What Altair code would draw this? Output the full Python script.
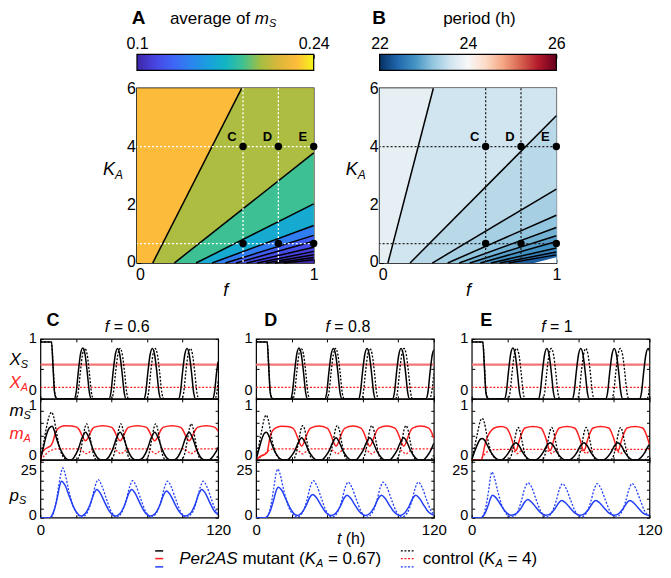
import altair as alt
import pandas as pd

FONT = "Liberation Sans"
BLACK = "#000000"
RED = "#FF1F1F"
RED_LIGHT = "#F27474"
BLUE = "#2340F5"

# ---------------- Panel A: average of m_S (contours from (f0,0) to (f1,K1)) ----------------
A_LINE_F0 = [0.089, 0.211, 0.334, 0.425, 0.50, 0.56, 0.62, 0.68, 0.73, 0.78, 0.83]
A_LINE_F1 = [0.592, 1, 1, 1, 1, 1, 1, 1, 1, 1, 1]
A_LINE_K1 = [6.0, 3.78, 2.03, 1.29, 0.95, 0.75, 0.545, 0.40, 0.285, 0.19, 0.11]
A_REGION_VAL = [0.226, 0.200, 0.183, 0.163, 0.139, 0.125, 0.118, 0.113, 0.109, 0.106, 0.103, 0.101]
A_CB_STOPS = [0.1, 0.114, 0.128, 0.142, 0.156, 0.17, 0.184, 0.198, 0.212, 0.226, 0.24]
A_CB_COLORS = ["#3E26A8", "#4744E0", "#3F64F6", "#2C83EF", "#1A9FDE", "#12B5C4",
               "#40C290", "#A4BE42", "#DAB73A", "#FDBB3C", "#F5F418"]
A_CB_TICKS = [0.1, 0.17, 0.24]

# ---------------- Panel B: period (h) ----------------
B_LINE_F0 = [0.047, 0.172, 0.298, 0.385, 0.45, 0.51, 0.57, 0.63, 0.68, 0.73]
B_LINE_F1 = [0.304, 1, 1, 1, 1, 1, 1, 1, 1, 1]
B_LINE_K1 = [6.0, 5.06, 2.54, 1.64, 1.22, 0.94, 0.74, 0.52, 0.38, 0.28]
B_REGION_VAL = [23.82, 23.60, 23.45, 23.33, 23.20, 23.05, 22.90, 22.78, 22.65, 22.50, 22.35]
B_WHITE_F = [0.875, 1.0]
B_WHITE_K = [0.0, 0.2]
B_CB_STOPS = [22, 22.4, 22.8, 23.2, 23.6, 24, 24.4, 24.8, 25.2, 25.6, 26]
B_CB_COLORS = ["#053061", "#2166AC", "#4393C3", "#92C5DE", "#D1E5F0", "#F7F7F7",
               "#FDDBC7", "#F4A582", "#D6604D", "#B2182B", "#67001F"]
B_CB_TICKS = [22, 23, 24, 25, 26]

GUIDE_F = [0.6, 0.8]
GUIDE_K = [4.0, 0.67]
POINT_F = [0.6, 0.8, 1.0]
POINT_LAB = ["C", "D", "E"]

# ---------------- Time courses (t in h, value) ----------------
XA_MUT = [(0, 0.57), (120, 0.57)]
XA_CTL = [(0, 0.19), (120, 0.19)]

# Panel C, f = 0.6
C_XS_MUT = [(0,.95),(7.5,.95),(8.5,.55),(9.5,.12),(10.5,.02),(12,0),
            (22.8,0),(24.1,.1),(25.6,.45),(27.1,.75),(28.6,.85),(30.1,.75),(31.6,.45),(33.1,.1),(34.4,0),
            (46.3,0),(47.6,.1),(49.1,.45),(50.6,.74),(52.1,.84),(53.6,.74),(55.1,.45),(56.6,.1),(57.9,0),
            (69.8,0),(71.1,.1),(72.6,.45),(74.1,.74),(75.6,.84),(77.1,.74),(78.6,.45),(80.1,.1),(81.4,0),
            (93.2,0),(94.5,.1),(96,.45),(97.5,.74),(99,.84),(100.5,.74),(102,.45),(103.5,.1),(104.8,0),
            (116.2,0),(117.5,.1),(119,.45),(120,.62)]
C_XS_CTL = [(0,.95),(7.5,.95),(8.6,.55),(9.6,.12),(10.6,.02),(12,0),
            (24.2,0),(25.5,.1),(27,.45),(28.5,.75),(30,.84),(31.5,.75),(33,.45),(34.5,.1),(35.8,0),
            (48,0),(49.3,.1),(50.8,.45),(52.3,.74),(53.8,.84),(55.3,.74),(56.8,.45),(58.3,.1),(59.6,0),
            (71.7,0),(73,.1),(74.5,.45),(76,.74),(77.5,.84),(79,.74),(80.5,.45),(82,.1),(83.3,0),
            (95.4,0),(96.7,.1),(98.2,.45),(99.7,.74),(101.2,.84),(102.7,.74),(104.2,.45),(105.7,.1),(107,0),
            (117.8,0),(119.1,.1),(120,.3)]
C_MS_MUT = [(0,0),(2,.2),(4,.4),(6,.52),(7.9,.55),(9.5,.47),(11,.34),(13,.2),(15,.1),(17,.03),(19,0),(21,0),
            (23,.05),(25.5,.17),(28,.35),(30.5,.45),(33,.35),(35.5,.17),(38,.05),(40.5,0),(44,0),
            (46.3,.05),(48.8,.17),(51.3,.35),(53.8,.45),(56.3,.35),(58.8,.17),(61.3,.05),(63.8,0),(67,0),
            (69.7,.05),(72.2,.17),(74.7,.35),(77.2,.45),(79.7,.35),(82.2,.17),(84.7,.05),(87.2,0),(90.5,0),
            (92.9,.05),(95.4,.17),(97.9,.35),(100.4,.45),(102.9,.35),(105.4,.17),(107.9,.05),(110.4,0),(114,0),
            (116.3,.05),(118.8,.14),(120,.2)]
C_MS_CTL = [(0,0),(2,.25),(4,.52),(6,.72),(7.5,.78),(9,.7),(10.5,.5),(12,.3),(14,.12),(16,.03),(18,0),
            (24.5,0),(26.5,.08),(28.5,.32),(30,.52),(31.2,.59),(32.4,.52),(33.9,.32),(35.9,.08),(37.9,0),
            (47.6,0),(49.6,.08),(51.6,.32),(53.1,.52),(54.3,.59),(55.5,.52),(57,.32),(59,.08),(61,0),
            (71.1,0),(73.1,.08),(75.1,.32),(76.6,.52),(77.8,.59),(79,.52),(80.5,.32),(82.5,.08),(84.5,0),
            (95.2,0),(97.2,.08),(99.2,.32),(100.7,.52),(101.9,.59),(103.1,.52),(104.6,.32),(106.6,.08),(108.6,0),
            (118,0),(120,.08)]
C_MA_MUT = [(0,0),(1,.1),(2.5,.16),(5,.2),(7,.23),(8.5,.3),(10,.43),(11.5,.5),(13.5,.54),(17,.56),(21,.555),
            (24.5,.535),(26,.5),(27.5,.43),(29,.35),(30.5,.31),(32,.35),(33.5,.43),(35,.5),(36.5,.535),(42.2,.56),
            (47.8,.535),(49.3,.5),(50.8,.43),(52.3,.35),(53.8,.31),(55.3,.35),(56.8,.43),(58.3,.5),(59.8,.535),(65.5,.56),
            (71.2,.535),(72.7,.5),(74.2,.43),(75.7,.35),(77.2,.31),(78.7,.35),(80.2,.43),(81.7,.5),(83.2,.535),(88.8,.56),
            (94.4,.535),(95.9,.5),(97.4,.43),(98.9,.35),(100.4,.31),(101.9,.35),(103.4,.43),(104.9,.5),(106.4,.535),(112,.56),
            (117.6,.535),(119.1,.5),(120,.47)]
C_MA_CTL = [(0,0),(2,.05),(4,.1),(6,.14),(8,.16),(11,.18),(26.2,.18),(28.2,.15),(30.2,.11),(31.2,.1),(32.2,.11),(34.2,.15),(36.2,.18),
            (49.3,.18),(51.3,.15),(53.3,.11),(54.3,.1),(55.3,.11),(57.3,.15),(59.3,.18),
            (72.8,.18),(74.8,.15),(76.8,.11),(77.8,.1),(78.8,.11),(80.8,.15),(82.8,.18),
            (96.9,.18),(98.9,.15),(100.9,.11),(101.9,.1),(102.9,.11),(104.9,.15),(106.9,.18),
            (120,.18)]
C_PS_MUT = [(0,0),(6,0),(7.5,.8),(9.5,4.5),(11.5,11),(13,17),(14.3,19.5),(16.5,17.5),(19.5,11.5),(22.5,5.5),(25,2.2),(27.5,.9),
            (30.6,2.5),(33.6,7.2),(36.1,12.9),(38.1,15.1),(40.6,12.9),(43.6,7.9),(46.6,3.4),(50.6,.9),
            (54.1,2.5),(57.1,7.2),(59.6,12.9),(61.6,15.1),(64.1,12.9),(67.1,7.9),(70.1,3.4),(74.1,.9),
            (77.7,2.4),(80.7,6.8),(83.2,12.2),(85.2,14.3),(87.7,12.2),(90.7,7.5),(93.7,3.2),(97.5,.9),
            (101.5,2.5),(104.5,7.2),(107,12.9),(109,15.1),(111.5,12.9),(114.5,7.9),(117.5,3.4),(120,1.6)]
C_PS_CTL = [(0,0),(6.3,0),(8,1),(10,6),(12,15),(13.8,23.5),(15,26.6),(16.5,24),(19,15),(22,6.5),(25,2),(28,.3),
            (31.5,2.5),(34.5,9),(37,17),(39,20.4),(41.5,17),(44.5,10.2),(47.5,3.8),(51.5,.3),
            (54.8,2.6),(57.8,9),(60.3,16.6),(62.3,19.8),(64.8,16.6),(67.8,9.9),(70.8,3.7),(74.8,.3),
            (78.4,2.6),(81.4,8.9),(83.9,16.4),(85.9,19.5),(88.4,16.4),(91.4,9.8),(94.4,3.7),(98.5,.3),
            (102.5,2.6),(105.5,8.9),(108,16.4),(110,19.5),(112.5,16.4),(115.5,9.8),(118.5,3.7),(120,2.4)]

# Panel D, f = 0.8
D_XS_MUT = [(0,.95),(7.5,.95),(8.5,.55),(9.5,.12),(10.5,.02),(12,0),
            (23.2,0),(24.5,.1),(26,.45),(27.5,.75),(29,.85),(30.5,.75),(32,.45),(33.5,.1),(34.8,0),
            (46.4,0),(47.7,.1),(49.2,.45),(50.7,.74),(52.2,.84),(53.7,.74),(55.2,.45),(56.7,.1),(58,0),
            (69.1,0),(70.4,.1),(71.9,.45),(73.4,.74),(74.9,.84),(76.4,.74),(77.9,.45),(79.4,.1),(80.7,0),
            (92.1,0),(93.4,.1),(94.9,.45),(96.4,.74),(97.9,.84),(99.4,.74),(100.9,.45),(102.4,.1),(103.7,0),
            (114.7,0),(116,.1),(117.5,.45),(119,.74),(120,.82)]
D_XS_CTL = [(0,.95),(7.5,.95),(8.6,.55),(9.6,.12),(10.6,.02),(12,0),
            (24.7,0),(26,.1),(27.5,.45),(29,.75),(30.5,.84),(32,.75),(33.5,.45),(35,.1),(36.3,0),
            (47.9,0),(49.2,.1),(50.7,.45),(52.2,.74),(53.7,.84),(55.2,.74),(56.7,.45),(58.2,.1),(59.5,0),
            (71.1,0),(72.4,.1),(73.9,.45),(75.4,.74),(76.9,.84),(78.4,.74),(79.9,.45),(81.4,.1),(82.7,0),
            (94.1,0),(95.4,.1),(96.9,.45),(98.4,.74),(99.9,.84),(101.4,.74),(102.9,.45),(104.4,.1),(105.7,0),
            (117.2,0),(118.5,.1),(120,.42)]
D_MS_MUT = [(0,0),(2,.18),(4,.35),(5.5,.43),(7,.45),(8.5,.4),(10,.3),(12,.17),(14,.08),(16,.02),(18,0),(21,0),
            (23.5,.05),(26,.14),(28.5,.28),(30.8,.36),(33.1,.28),(35.6,.14),(38.1,.05),(40.6,0),(44.5,0),
            (46.7,.05),(49.2,.14),(51.7,.28),(54,.36),(56.3,.28),(58.8,.14),(61.3,.05),(63.8,0),(67.5,0),
            (69.5,.05),(72,.14),(74.5,.28),(76.8,.36),(79.1,.28),(81.6,.14),(84.1,.05),(86.6,0),(90.4,0),
            (92.4,.05),(94.9,.14),(97.4,.28),(99.7,.36),(102,.28),(104.5,.14),(107,.05),(109.5,0),(113,0),
            (115.2,.05),(117.7,.14),(120,.27)]
D_MS_CTL = [(0,0),(2,.25),(4,.5),(5.5,.67),(6.8,.73),(8.2,.66),(9.7,.47),(11.2,.28),(13.2,.11),(15.2,.03),(17.2,0),
            (24.8,0),(26.8,.08),(28.8,.31),(30.3,.5),(31.5,.56),(32.8,.5),(34.3,.31),(36.3,.08),(38.3,0),
            (48.1,0),(50.1,.08),(52.1,.31),(53.6,.5),(54.8,.56),(56.1,.5),(57.6,.31),(59.6,.08),(61.6,0),
            (71.4,0),(73.4,.08),(75.4,.31),(76.9,.5),(78.1,.56),(79.4,.5),(80.9,.31),(82.9,.08),(84.9,0),
            (94.5,0),(96.5,.08),(98.5,.31),(100,.5),(101.2,.56),(102.5,.5),(104,.31),(106,.08),(108,0),
            (117.8,0),(120,.08)]
D_MA_MUT = [(0,0),(2,.04),(4,.07),(6,.09),(7.5,.12),(8.5,.25),(9.5,.38),(11,.47),(13,.52),(17,.55),(21,.545),
            (24.8,.52),(26.3,.47),(27.8,.38),(29.3,.28),(30.8,.22),(32.3,.28),(33.8,.38),(35.3,.47),(36.8,.52),(42.4,.555),
            (48,.52),(49.5,.47),(51,.38),(52.5,.28),(54,.22),(55.5,.28),(57,.38),(58.5,.47),(60,.52),(65.4,.555),
            (70.8,.52),(72.3,.47),(73.8,.38),(75.3,.28),(76.8,.22),(78.3,.28),(79.8,.38),(81.3,.47),(82.8,.52),(88.25,.555),
            (93.7,.52),(95.2,.47),(96.7,.38),(98.2,.28),(99.7,.22),(101.2,.28),(102.7,.38),(104.2,.47),(105.7,.52),(111.2,.555),
            (116.6,.52),(118.1,.47),(119.6,.38),(120,.35)]
D_MA_CTL = [(0,0),(2,.03),(4,.06),(6,.1),(8,.14),(11,.175),(26.5,.18),(28.5,.15),(30.5,.11),(31.5,.095),(32.5,.11),(34.5,.15),(36.5,.18),
            (49.8,.18),(51.8,.15),(53.8,.11),(54.8,.095),(55.8,.11),(57.8,.15),(59.8,.18),
            (73.1,.18),(75.1,.15),(77.1,.11),(78.1,.095),(79.1,.11),(81.1,.15),(83.1,.18),
            (96.2,.18),(98.2,.15),(100.2,.11),(101.2,.095),(102.2,.11),(104.2,.15),(106.2,.18),
            (120,.18)]
D_PS_MUT = [(0,0),(6.2,0),(7.7,.7),(9.7,3.8),(11.7,9),(13.5,14.3),(15,16.3),(17.2,14.8),(20.2,9.8),(23.2,4.8),(25.7,2),(27.7,1.2),
            (30.7,2.5),(33.7,6.3),(36.2,10.8),(38.2,12.4),(40.7,10.8),(43.7,6.8),(46.7,3.2),(50.7,1.2),
            (53.9,2.5),(56.9,6.1),(59.4,10.4),(61.4,12),(63.9,10.4),(66.9,6.6),(69.9,3.1),(73.9,1.2),
            (77.1,2.5),(80.1,6.1),(82.6,10.4),(84.6,12),(87.1,10.4),(90.1,6.6),(93.1,3.1),(97.1,1.2),
            (100.3,2.5),(103.3,6.1),(105.8,10.4),(107.8,12),(110.3,10.4),(113.3,6.6),(116.3,3.1),(120,1.3)]
D_PS_CTL = [(0,0),(6.3,0),(8,1),(10,6.5),(12,16),(13.5,23.5),(14.6,26),(16,23.8),(18.6,15),(21.6,6.5),(24.6,2),(27.6,.3),
            (31.2,2.6),(34.2,9),(36.7,16.8),(38.7,19.8),(41.2,16.8),(44.2,10.1),(47.2,3.8),(51.2,.3),
            (54.7,2.5),(57.7,8.7),(60.2,16.2),(62.2,19),(64.7,16.2),(67.7,9.7),(70.7,3.7),(74.7,.3),
            (78.4,2.5),(81.4,8.7),(83.9,16.2),(85.9,19),(88.4,16.2),(91.4,9.7),(94.4,3.7),(98.4,.3),
            (102.1,2.5),(105.1,8.7),(107.6,16.2),(109.6,19),(112.1,16.2),(115.1,9.7),(118.1,3.7),(120,2)]

# Panel E, f = 1
E_XS_MUT = [(0,.95),(7.5,.95),(8.5,.55),(9.5,.12),(10.5,.02),(12,0),
            (22,0),(23.3,.1),(24.8,.45),(26.3,.75),(27.8,.85),(29.3,.75),(30.8,.45),(32.3,.1),(33.6,0),
            (44.9,0),(46.2,.1),(47.7,.45),(49.2,.74),(50.7,.84),(52.2,.74),(53.7,.45),(55.2,.1),(56.5,0),
            (67.8,0),(69.1,.1),(70.6,.45),(72.1,.74),(73.6,.84),(75.1,.74),(76.6,.45),(78.1,.1),(79.4,0),
            (90.4,0),(91.7,.1),(93.2,.45),(94.7,.74),(96.2,.84),(97.7,.74),(99.2,.45),(100.7,.1),(102,0),
            (113.3,0),(114.6,.1),(116.1,.45),(117.6,.74),(119.1,.84),(120,.8)]
E_XS_CTL = [(0,.95),(7.5,.95),(8.6,.55),(9.6,.12),(10.6,.02),(12,0),
            (24.5,0),(25.8,.1),(27.3,.45),(28.8,.75),(30.3,.84),(31.8,.75),(33.3,.45),(34.8,.1),(36.1,0),
            (47.9,0),(49.2,.1),(50.7,.45),(52.2,.74),(53.7,.84),(55.2,.74),(56.7,.45),(58.2,.1),(59.5,0),
            (71.2,0),(72.5,.1),(74,.45),(75.5,.74),(77,.84),(78.5,.74),(80,.45),(81.5,.1),(82.8,0),
            (94.5,0),(95.8,.1),(97.3,.45),(98.8,.74),(100.3,.84),(101.8,.74),(103.3,.45),(104.8,.1),(106.1,0),
            (118.3,0),(119.6,.1),(120,.2)]
E_MS_MUT = [(0,0),(2,.14),(4,.26),(5.5,.33),(7.1,.35),(8.7,.32),(10.5,.24),(12.5,.14),(14.5,.07),(16.5,.02),(18.5,0),(20.5,0),
            (22.5,.04),(25,.12),(27.4,.23),(29.7,.28),(32,.23),(34.4,.12),(36.9,.04),(39.4,0),(43.3,0),
            (45.7,.04),(48.2,.12),(50.6,.23),(52.9,.28),(55.2,.23),(57.6,.12),(60.1,.04),(62.6,0),(66.1,0),
            (68.5,.04),(71,.12),(73.4,.23),(75.7,.28),(78,.23),(80.4,.12),(82.9,.04),(85.4,0),(89.1,0),
            (91.5,.04),(94,.12),(96.4,.23),(98.7,.28),(101,.23),(103.4,.12),(105.9,.04),(108.4,0),(112,0),
            (114.4,.04),(116.9,.12),(119.3,.23),(120,.25)]
E_MS_CTL = [(0,0),(2,.22),(4,.45),(5.7,.63),(7.1,.68),(8.5,.61),(10,.43),(11.5,.26),(13.5,.1),(15.5,.03),(17.5,0),
            (24.7,0),(26.7,.07),(28.7,.29),(30.2,.47),(31.4,.53),(32.6,.47),(34.1,.29),(36.1,.07),(38.1,0),
            (47.3,0),(49.3,.07),(51.3,.29),(52.8,.47),(54,.53),(55.2,.47),(56.7,.29),(58.7,.07),(60.7,0),
            (70.6,0),(72.6,.07),(74.6,.29),(76.1,.47),(77.3,.53),(78.5,.47),(80,.29),(82,.07),(84,0),
            (93.8,0),(95.8,.07),(97.8,.29),(99.3,.47),(100.5,.53),(101.7,.47),(103.2,.29),(105.2,.07),(107.2,0),
            (117.1,0),(119.1,.05),(120,.08)]
E_MA_MUT = [(0,0),(6.5,0),(7.5,.08),(8.5,.2),(9.7,.32),(11.5,.42),(13.5,.49),(16.5,.535),(20,.545),
            (23.5,.52),(25.5,.44),(27.5,.3),(28.7,.19),(29.7,.15),(30.7,.19),(31.9,.3),(33.9,.44),(35.9,.52),(41.3,.545),
            (46.7,.52),(48.7,.44),(50.7,.3),(51.9,.19),(52.9,.15),(53.9,.19),(55.1,.3),(57.1,.44),(59.1,.52),(64.3,.545),
            (69.5,.52),(71.5,.44),(73.5,.3),(74.7,.19),(75.7,.15),(76.7,.19),(77.9,.3),(79.9,.44),(81.9,.52),(87.2,.545),
            (92.5,.52),(94.5,.44),(96.5,.3),(97.7,.19),(98.7,.15),(99.7,.19),(100.9,.3),(102.9,.44),(104.9,.52),(110.2,.545),
            (115.4,.52),(117.4,.44),(119.4,.3),(120,.25)]
E_MA_CTL = [(0,0),(6,0),(7.5,.05),(9,.1),(11,.14),(14,.165),(26,.17),(28,.15),(29.8,.12),(30.8,.1),(31.8,.12),(33.6,.15),(35.6,.17),
            (49.2,.17),(51.2,.15),(53,.12),(54,.1),(55,.12),(56.8,.15),(58.8,.17),
            (72.5,.17),(74.5,.15),(76.3,.12),(77.3,.1),(78.3,.12),(80.1,.15),(82.1,.17),
            (95.7,.17),(97.7,.15),(99.5,.12),(100.5,.1),(101.5,.12),(103.3,.15),(105.3,.17),
            (120,.17)]
E_PS_MUT = [(0,0),(6,0),(7.5,.6),(9.5,3.2),(11.5,7.5),(12.8,10.6),(14,12),(16,11),(19,7.6),(22,4),(24.5,2),(26.5,1.3),
            (30.3,2.3),(33.3,5.1),(35.8,8.4),(37.8,9.7),(40.3,8.4),(43.3,5.6),(46.3,2.8),(50,1.3),
            (53.3,2.2),(56.3,4.9),(58.8,8),(60.8,9.2),(63.3,8),(66.3,5.3),(69.3,2.7),(73,1.3),
            (76.3,2.2),(79.3,4.9),(81.8,8),(83.8,9.2),(86.3,8),(89.3,5.3),(92.3,2.7),(96,1.3),
            (99.3,2.2),(102.3,4.9),(104.8,8),(106.8,9.2),(109.3,8),(112.3,5.3),(115.3,2.7),(119,1.3),(120,1.4)]
E_PS_CTL = [(0,0),(6,0),(7.7,1),(9.7,6.5),(11.5,15),(12.6,21.5),(13.6,24.4),(15,22.3),(17.6,14),(20.6,6),(23.6,1.8),(26.5,.3),
            (30.5,2.5),(33.5,8.9),(36,16.2),(38,18.6),(40.5,16.2),(43.5,9.6),(46.5,3.6),(50.5,.3),
            (53.8,2.4),(56.8,8.4),(59.3,15.5),(61.3,18.2),(63.8,15.5),(66.8,9.3),(69.8,3.5),(73.8,.3),
            (77.3,2.4),(80.3,8.4),(82.8,15.5),(84.8,18.2),(87.3,15.5),(90.3,9.3),(93.3,3.5),(97.3,.3),
            (100.8,2.4),(103.8,8.4),(106.3,15.5),(108.3,18.2),(110.8,15.5),(113.8,9.3),(116.8,3.5),(120,.8)]

_DUMMY = pd.DataFrame({"a": [0]})


def txt(s, x, y, size=16, italic=False, bold=False, color=BLACK, align="left"):
    kw = dict(text=s, fontSize=size, font=FONT, color=color, align=align, baseline="alphabetic")
    if italic:
        kw["fontStyle"] = "italic"
    if bold:
        kw["fontWeight"] = "bold"
    return alt.Chart(_DUMMY).mark_text(**kw).encode(x=alt.value(x), y=alt.value(y))


def rule(x1, x2, y, col, w, dash=None):
    kw = dict(color=col, strokeWidth=w)
    if dash:
        kw["strokeDash"] = dash
    return alt.Chart(_DUMMY).mark_rule(**kw).encode(x=alt.value(x1), x2=alt.value(x2), y=alt.value(y))


def zero_offset(v0, v_else=0):
    return {"condition": {"test": "datum.value == 0", "value": v0}, "value": v_else}


HW, HH = 177, 175


def heat_panel(f0s, f1s, k1s, vals, cstops, ccolors, guide_color, cb_ticks, cb_expr,
               cb_texts, white=None):
    cscale = alt.Scale(domain=cstops, range=ccolors, interpolate="rgb")
    xenc = alt.X("f:Q", scale=alt.Scale(domain=[0, 1], nice=False, zero=False),
                 axis=alt.Axis(values=[0, 1], labelExpr="datum.value == 0 ? '0' : '1'",
                               labelOffset=zero_offset(3),
                               tickSize=4, offset=-4, domain=False, labelFontSize=16,
                               labelPadding=3, labelFlush=False, title="f",
                               titleFontStyle="italic", titleFontSize=18,
                               titleFontWeight="normal", titlePadding=0, grid=False))
    yenc = alt.Y("K:Q", scale=alt.Scale(domain=[0, 6], nice=False, zero=False),
                 axis=alt.Axis(values=[0, 1, 2, 3, 4, 5, 6],
                               labelExpr="datum.value % 2 == 0 ? datum.label : ''",
                               labelOffset=zero_offset(-2),
                               tickSize=4, offset=-4, domain=False, labelFontSize=16,
                               labelPadding=1.5, labelFlush=False, title=None, grid=False))
    layers = []
    polys = [[(0.0, 6.0), (1.0, 6.0)]]
    for f0, f1, k1 in zip(f0s, f1s, k1s):
        pts = [(f0, 0.0), (f1, k1)]
        if f1 < 1:
            pts.append((1.0, 6.0))
        polys.append(pts)
    for pts, v in zip(polys, vals):
        df = pd.DataFrame({"f": [p[0] for p in pts], "K": [p[1] for p in pts],
                           "K0": [0.0] * len(pts), "val": [v] * len(pts)})
        layers.append(alt.Chart(df).mark_area(interpolate="linear").encode(
            x=xenc, y=yenc, y2=alt.Y2("K0"),
            color=alt.Color("val:Q", scale=cscale, legend=None)))
    if white is not None:
        wdf = pd.DataFrame({"f": white[0], "K": white[1], "K0": [0.0, 0.0]})
        layers.append(alt.Chart(wdf).mark_area(color="white").encode(
            x=xenc, y=yenc, y2=alt.Y2("K0")))
    ldf = pd.DataFrame({
        "id": [i for i in range(len(f0s)) for _ in (0, 1)],
        "f": [v for a, b in zip(f0s, f1s) for v in (a, b)],
        "K": [v for k in k1s for v in (0.0, k)],
    })
    layers.append(alt.Chart(ldf).mark_line(color="black", strokeWidth=1.5).encode(
        x=xenc, y=yenc, detail="id:N"))
    layers.append(alt.Chart(pd.DataFrame({"f": GUIDE_F})).mark_rule(
        color=guide_color, strokeDash=[2, 2], strokeWidth=1.3).encode(x=xenc))
    layers.append(alt.Chart(pd.DataFrame({"K": GUIDE_K})).mark_rule(
        color=guide_color, strokeDash=[2, 2], strokeWidth=1.3).encode(y=yenc))
    pdf = pd.DataFrame({"f": [f for k in GUIDE_K for f in POINT_F],
                        "K": [k for k in GUIDE_K for f in POINT_F]})
    layers.append(alt.Chart(pdf).mark_circle(size=55, color="black", opacity=1).encode(
        x=xenc, y=yenc))
    tdf = pd.DataFrame({"f": POINT_F, "K": [GUIDE_K[0]] * 3, "lab": POINT_LAB})
    layers.append(alt.Chart(tdf).mark_text(fontSize=13, fontWeight="bold", font=FONT,
                                           dx=-11, dy=-10, color="black").encode(
        x=xenc, y=yenc, text="lab:N"))
    heat = alt.layer(*layers)

    n = len(ccolors)
    grad = alt.Gradient(gradient="linear",
                        stops=[alt.GradientStop(color=c, offset=i / (n - 1))
                               for i, c in enumerate(ccolors)],
                        x1=0, x2=1, y1=0, y2=0)
    cdf = pd.DataFrame({"a": [cstops[0]], "b": [cstops[-1]]})
    cbx = alt.X("a:Q", scale=alt.Scale(domain=[cstops[0], cstops[-1]], nice=False, zero=False),
                axis=alt.Axis(orient="top", values=cb_ticks, labelExpr=cb_expr, tickSize=4,
                              offset=30, domain=False, labelFontSize=16, labelPadding=3,
                              labelFlush=False, title=None, grid=False))
    bar = alt.Chart(cdf).mark_rect(color=grad, stroke="black", strokeWidth=1.2).encode(
        x=cbx, x2="b", y=alt.value(-34), y2=alt.value(-18))
    extras = cb_texts + [txt("K", -34, 87, 18, italic=True), txt("A", -22, 91, 12, italic=True)]
    return alt.layer(heat, bar, *extras).resolve_scale(x="independent").properties(
        width=HW, height=HH, view=alt.ViewBackground(stroke="black", strokeWidth=1.5))


panelA = heat_panel(
    A_LINE_F0, A_LINE_F1, A_LINE_K1, A_REGION_VAL, A_CB_STOPS, A_CB_COLORS, "white",
    A_CB_TICKS, "datum.value < 0.12 ? '0.1' : (datum.value > 0.2 ? '0.24' : '')",
    [txt("average of", 33, -64, 17), txt("m", 118, -64, 17, italic=True),
     txt("S", 132.2, -61, 11, italic=True), txt("A", 1.5, -64, 19, bold=True, align="center")])
panelB = heat_panel(
    B_LINE_F0, B_LINE_F1, B_LINE_K1, B_REGION_VAL, B_CB_STOPS, B_CB_COLORS, "#222222",
    B_CB_TICKS, "datum.value % 2 == 0 ? datum.label : ''",
    [txt("period (h)", 100, -64, 17, align="center"),
     txt("B", -0.5, -64, 19, bold=True, align="center")],
    white=(B_WHITE_F, B_WHITE_K))

top_row = alt.hconcat(panelA, panelB, spacing=66, bounds="flush").resolve_scale(color="independent")

SW = 178
XTICKS = [0, 24, 48, 72, 96, 120]


def sub(series, dom, ticks, lab_expr, off0, off1, height, xlabels, extra):
    xscale = alt.Scale(domain=[0, 120], nice=False, zero=False)
    yscale = alt.Scale(domain=dom, nice=False, zero=False)
    x = alt.X("t:Q", scale=xscale,
              axis=alt.Axis(values=XTICKS, labels=xlabels,
                            labelExpr="datum.value == 0 || datum.value == 120 ? datum.label : ''",
                            tickSize=3, offset=-3, domain=False, title=None, labelFontSize=15,
                            labelPadding=5, labelFlush=False, grid=False))
    y = alt.Y("v:Q", scale=yscale,
              axis=alt.Axis(values=ticks, labelExpr=lab_expr,
                            labelOffset=zero_offset(off0, off1),
                            tickSize=3, offset=-3, domain=False, title=None, labelFontSize=14.5,
                            labelPadding=4, labelFlush=False, grid=False))
    layers = []
    for pts, col, dashed, w in series:
        df = pd.DataFrame({"t": [p[0] for p in pts], "v": [p[1] for p in pts]})
        kw = dict(color=col, strokeWidth=w, interpolate="monotone", clip=True)
        if dashed:
            kw["strokeDash"] = [2, 1.6]
        layers.append(alt.Chart(df).mark_line(**kw).encode(x=x, y=y))
    main = alt.layer(*layers)
    # mirrored inward ticks on the top and right edges (same scales)
    first = series[-1][0]
    mdf = pd.DataFrame({"t": [p[0] for p in first], "v": [p[1] for p in first]})
    mx = alt.X("t:Q", scale=xscale,
               axis=alt.Axis(orient="top", values=XTICKS, labels=False, tickSize=3, offset=-3,
                             domain=False, title=None, grid=False))
    my = alt.Y("v:Q", scale=yscale,
               axis=alt.Axis(orient="right", values=ticks, labels=False, tickSize=3, offset=-3,
                             domain=False, title=None, grid=False))
    mirror = alt.Chart(mdf).mark_line(opacity=0, clip=True).encode(x=mx, y=my)
    return alt.layer(main, mirror, *extra).resolve_axis(x="independent", y="independent").properties(
        width=SW, height=height, view=alt.ViewBackground(stroke="black", strokeWidth=1.2))


LAB01 = "datum.value == 0 ? '0' : (datum.value == 1 ? '1' : '')"
LAB25 = "datum.value == 0 ? '0' : (datum.value == 25 ? '25' : '')"

LEGEND = [rule(-101, -93, 91.3, BLACK, 1.5), rule(-101, -93, 99, RED, 1.5),
          rule(-101, -93, 107.3, BLUE, 1.5),
          rule(145, 158, 91.3, BLACK, 1.3, [2, 1.6]), rule(145, 158, 99, RED, 1.3, [2, 1.6]),
          rule(145, 158, 107.3, BLUE, 1.3, [2, 1.6]),
          txt("Per2AS", -77, 104, 17, italic=True), txt("mutant (", -13.7, 104, 17),
          txt("K", 48.7, 104, 17, italic=True), txt("A", 60, 107.5, 11, italic=True),
          txt("= 0.67)", 72, 104, 17),
          txt("control (", 167, 104, 17), txt("K", 228.4, 104, 17, italic=True),
          txt("A", 239.7, 107.5, 11, italic=True), txt("= 4)", 251.7, 104, 17)]


def column(xs_m, xs_c, ms_m, ms_c, ma_m, ma_c, ps_m, ps_c, letter, lx, ftxt, fx,
           first=False, middle=False):
    top_extra = [txt(letter, lx, -13, 18, bold=True, align="center"),
                 txt("f", fx, -7, 16, italic=True, align="right"),
                 txt(ftxt, fx + 4.4, -7, 16)]
    mid_extra, bot_extra = [], []
    if first:
        top_extra += [txt("X", -31, 26, 17, italic=True), txt("S", -19.7, 29.5, 11, italic=True),
                      txt("X", -31, 49, 17, italic=True, color=RED),
                      txt("A", -19.7, 52.5, 11, italic=True, color=RED)]
        mid_extra += [txt("m", -31, 17.5, 17, italic=True), txt("S", -17, 20.5, 11, italic=True),
                      txt("m", -31, 40.5, 17, italic=True, color=RED),
                      txt("A", -17, 43.5, 11, italic=True, color=RED)]
        bot_extra += [txt("p", -31, 41.5, 17, italic=True), txt("S", -21.5, 44.5, 11, italic=True)]
    if middle:
        bot_extra += [txt("t", 85.4, 84, 16, italic=True, align="right"), txt("(h)", 89.8, 84, 16)]
        bot_extra += LEGEND
    top = sub([(XA_MUT, RED_LIGHT, False, 2.2), (XA_CTL, RED, True, 1.3),
               (xs_m, BLACK, False, 1.5), (xs_c, BLACK, True, 1.3)],
              [0, 1], [0, 0.5, 1], LAB01, -8, 0, 60, False, top_extra)
    mid = sub([(ma_m, RED, False, 1.5), (ma_c, RED, True, 1.3),
               (ms_m, BLACK, False, 1.5), (ms_c, BLACK, True, 1.3)],
              [0, 1], [0, 0.2, 0.4, 0.6, 0.8, 1], LAB01, -4, 7, 61, False, mid_extra)
    bot = sub([(ps_m, BLUE, False, 1.5), (ps_c, BLUE, True, 1.3)],
              [0, 31], [0, 5, 10, 15, 20, 25, 30], LAB25, -2, 0, 58, True, bot_extra)
    return top, mid, bot


cC = column(C_XS_MUT, C_XS_CTL, C_MS_MUT, C_MS_CTL, C_MA_MUT, C_MA_CTL, C_PS_MUT, C_PS_CTL,
            "C", 12.7, "= 0.6", 69, first=True)
cD = column(D_XS_MUT, D_XS_CTL, D_MS_MUT, D_MS_CTL, D_MA_MUT, D_MA_CTL, D_PS_MUT, D_PS_CTL,
            "D", 14.6, "= 0.8", 74, middle=True)
cE = column(E_XS_MUT, E_XS_CTL, E_MS_MUT, E_MS_CTL, E_MA_MUT, E_MA_CTL, E_PS_MUT, E_PS_CTL,
            "E", 14.6, "= 1", 74)
cells = [cC[0], cD[0], cE[0], cC[1], cD[1], cE[1], cC[2], cD[2], cE[2]]
grid = alt.concat(*cells, columns=3, spacing={"row": 0, "column": 38}, bounds="flush")

chart = alt.vconcat(top_row, grid, spacing=10, center=True).properties(padding=0)
chart = chart.configure(font=FONT).configure_view(stroke="black").configure_axis(
    labelFont=FONT, titleFont=FONT, labelColor="black", titleColor="black",
    tickColor="black", tickWidth=1)

chart.save("out.html", embed_options={"renderer": "svg", "actions": False})
